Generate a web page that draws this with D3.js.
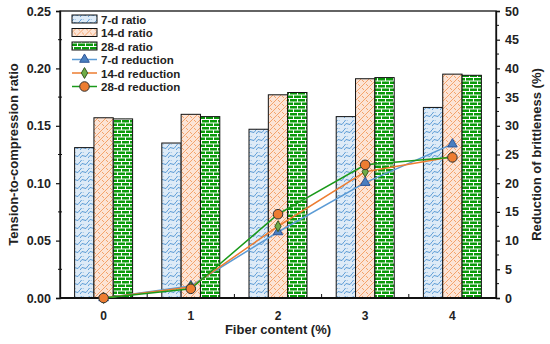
<!DOCTYPE html>
<html>
<head>
<meta charset="utf-8">
<script src="https://cdn.jsdelivr.net/npm/d3@7"></script>
<style>
  body { margin: 0; background: #fff; }
  text { font-family: 'Liberation Sans', Arial, sans-serif; font-weight: bold; fill: #222; }
</style>
</head>
<body>
<div id="chart"></div>
<script>
const fiber = ['0', '1', '2', '3', '4']
const ratio7 = [0.131, 0.135, 0.147, 0.158, 0.166]
const ratio14 = [0.157, 0.160, 0.177, 0.191, 0.195]
const ratio28 = [0.156, 0.158, 0.179, 0.192, 0.194]
const red7 = [0, 2.1, 11.5, 20.1, 26.8]
const red14 = [0, 1.9, 12.5, 22.0, 24.6]
const red28 = [0, 1.6, 14.6, 23.2, 24.5]
const leftTicks = [0, 0.05, 0.1, 0.15, 0.2, 0.25]
const rightTicks = [0, 5, 10, 15, 20, 25, 30, 35, 40, 45, 50]

const margin = { top: 11, right: 54, bottom: 46, left: 60 }
const W = 550
const H = 344
const width = W - margin.left - margin.right
const height = H - margin.top - margin.bottom

const svg = d3.select('#chart').append('svg')
  .attr('width', W).attr('height', H)

// patterns
const defs = svg.append('defs')
const pBlue = defs.append('pattern').attr('id', 'pBlue')
  .attr('patternUnits', 'userSpaceOnUse').attr('width', 8).attr('height', 8)
pBlue.append('rect').attr('width', 8).attr('height', 8).attr('fill', '#deebf7')
pBlue.append('path').attr('d', 'M0 6 Q2 2 4 4 T8 2').attr('fill', 'none')
  .attr('stroke', '#5b9bd5').attr('stroke-width', 1)
pBlue.append('path').attr('d', 'M0 2 Q2 -2 4 0').attr('fill', 'none')
  .attr('stroke', '#5b9bd5').attr('stroke-width', 1)

const pOrange = defs.append('pattern').attr('id', 'pOrange')
  .attr('patternUnits', 'userSpaceOnUse').attr('width', 8).attr('height', 8)
pOrange.append('rect').attr('width', 8).attr('height', 8).attr('fill', '#fce4d6')
pOrange.append('path').attr('d', 'M0 8 L8 0 M-2 2 L2 -2 M6 10 L10 6').attr('stroke', '#f4a36b').attr('stroke-width', 1)
pOrange.append('path').attr('d', 'M2 0 L4 2 M6 4 L8 6').attr('stroke', '#f4a36b').attr('stroke-width', 1)

const pGreen = defs.append('pattern').attr('id', 'pGreen')
  .attr('patternUnits', 'userSpaceOnUse').attr('width', 8).attr('height', 7)
pGreen.append('rect').attr('width', 8).attr('height', 7).attr('fill', '#0a9a0a')
pGreen.append('path')
  .attr('d', 'M0 0.5 H8 M0 4 H8 M1.5 0.5 V4 M5.5 4 V7')
  .attr('stroke', '#fff').attr('stroke-width', 1)

const x0 = d3.scaleBand().domain(fiber)
  .range([margin.left, margin.left + width])
  .paddingInner(0.335).paddingOuter(0.1675)
const series = ['r7', 'r14', 'r28']
const x1 = d3.scaleBand().domain(series).range([0, x0.bandwidth()])
const y = d3.scaleLinear().domain([0, 0.25]).range([margin.top + height, margin.top])
const y2 = d3.scaleLinear().domain([0, 50]).range([margin.top + height, margin.top])

const barData = [
  { key: 'r7', values: ratio7, fill: 'url(#pBlue)' },
  { key: 'r14', values: ratio14, fill: 'url(#pOrange)' },
  { key: 'r28', values: ratio28, fill: 'url(#pGreen)' }
]

barData.forEach(s => {
  svg.append('g').selectAll('rect')
    .data(s.values)
    .enter()
    .append('rect')
    .attr('x', (d, i) => x0(fiber[i]) + x1(s.key))
    .attr('y', d => y(d))
    .attr('width', x1.bandwidth())
    .attr('height', d => y(0) - y(d))
    .attr('fill', s.fill)
    .attr('stroke', '#111')
    .attr('stroke-width', 1)
})

// frame
svg.append('rect')
  .attr('x', margin.left).attr('y', margin.top)
  .attr('width', width).attr('height', height)
  .attr('fill', 'none').attr('stroke', '#111').attr('stroke-width', 1.3)

// axes
const leftAxis = d3.axisLeft(y).tickValues(leftTicks).tickFormat(d3.format('.2f')).tickSize(4).tickPadding(5)
svg.append('g').attr('class', 'y-axis')
  .attr('transform', 'translate(' + margin.left + ',0)')
  .call(leftAxis)
svg.append('g').selectAll('line')
  .data(leftTicks.slice(0, -1).map(d => d + 0.025))
  .enter().append('line')
  .attr('x1', margin.left - 2).attr('x2', margin.left + 2)
  .attr('y1', d => y(d)).attr('y2', d => y(d))
  .attr('stroke', '#111')

const rightAxis = d3.axisRight(y2).tickValues(rightTicks).tickSize(4).tickPadding(5)
svg.append('g').attr('class', 'y2-axis')
  .attr('transform', 'translate(' + (margin.left + width) + ',0)')
  .call(rightAxis)
svg.append('g').selectAll('line')
  .data(rightTicks.slice(0, -1).map(d => d + 2.5))
  .enter().append('line')
  .attr('x1', margin.left + width).attr('x2', margin.left + width + 3)
  .attr('y1', d => y2(d)).attr('y2', d => y2(d))
  .attr('stroke', '#111')

svg.selectAll('.y-axis text, .y2-axis text').attr('font-size', 12.5).attr('fill', '#222')
svg.selectAll('.y-axis .domain, .y2-axis .domain').attr('stroke', '#111').attr('stroke-width', 1.3)
svg.selectAll('.y-axis .tick line, .y2-axis .tick line').attr('stroke', '#111').attr('stroke-width', 1.2)

// x axis
svg.append('line')
  .attr('x1', margin.left).attr('x2', margin.left + width)
  .attr('y1', y(0)).attr('y2', y(0))
  .attr('stroke', '#111').attr('stroke-width', 2)
svg.append('g').selectAll('line')
  .data(fiber.slice(1))
  .enter().append('line')
  .attr('x1', d => x0(d) - x0.step() * x0.paddingInner() / 2)
  .attr('x2', d => x0(d) - x0.step() * x0.paddingInner() / 2)
  .attr('y1', y(0)).attr('y2', y(0) - 4)
  .attr('stroke', '#111')
svg.append('g').selectAll('text')
  .data(fiber)
  .enter().append('text')
  .attr('x', d => x0(d) + x0.bandwidth() / 2)
  .attr('y', y(0) + 22)
  .attr('text-anchor', 'middle')
  .attr('font-size', 12)
  .text(d => d)

// lines
const lineData = [
  { values: red7, line: '#5b9bd5', marker: 'triangle', mfill: '#4a7fc0', mstroke: '#2f5597' },
  { values: red14, line: '#ed7d31', marker: 'diamond', mfill: '#70ad47', mstroke: '#375623' },
  { values: red28, line: '#1a9a1a', marker: 'circle', mfill: '#ed7d31', mstroke: '#333' }
]
const xc = i => x0(fiber[i]) + x0.bandwidth() / 2
const lineGen = d3.line().x((d, i) => xc(i)).y(d => y2(d))
const symbols = {
  triangle: d3.symbol().type(d3.symbolTriangle).size(40),
  diamond: d3.symbol().type(d3.symbolDiamond).size(34),
  circle: d3.symbol().type(d3.symbolCircle).size(72)
}

lineData.forEach(s => {
  svg.append('path')
    .attr('d', lineGen(s.values))
    .attr('fill', 'none')
    .attr('stroke', s.line)
    .attr('stroke-width', 1.5)
})
lineData.forEach(s => {
  svg.append('g').selectAll('path')
    .data(s.values)
    .enter().append('path')
    .attr('d', symbols[s.marker]())
    .attr('transform', (d, i) => 'translate(' + xc(i) + ',' + y2(d) + ')')
    .attr('fill', s.mfill)
    .attr('stroke', s.mstroke)
    .attr('stroke-width', 1)
})

// titles
svg.append('text')
  .attr('transform', 'translate(' + 18 + ',' + (margin.top + height / 2) + ') rotate(-90)')
  .attr('text-anchor', 'middle').attr('font-size', 13)
  .text('Tension-to-compression ratio')
svg.append('text')
  .attr('transform', 'translate(' + 541 + ',' + (margin.top + height / 2) + ') rotate(-90)')
  .attr('text-anchor', 'middle').attr('font-size', 13)
  .text('Reduction of brittleness (%)')
svg.append('text')
  .attr('x', margin.left + width / 2).attr('y', 334)
  .attr('text-anchor', 'middle').attr('font-size', 13)
  .text('Fiber content (%)')

// legend
const legendItems = [
  { label: '7-d ratio', type: 'bar', fill: 'url(#pBlue)' },
  { label: '14-d ratio', type: 'bar', fill: 'url(#pOrange)' },
  { label: '28-d ratio', type: 'bar', fill: 'url(#pGreen)' },
  { label: '7-d reduction', type: 'line', s: lineData[0] },
  { label: '14-d reduction', type: 'line', s: lineData[1] },
  { label: '28-d reduction', type: 'line', s: lineData[2] }
]
const legend = svg.append('g').attr('transform', 'translate(72,19)')
legendItems.forEach((d, i) => {
  const g = legend.append('g').attr('transform', 'translate(0,' + (i * 13.5) + ')')
  if (d.type === 'bar') {
    g.append('rect').attr('x', 0).attr('y', -4).attr('width', 25).attr('height', 8)
      .attr('fill', d.fill).attr('stroke', '#111').attr('stroke-width', 1)
  } else {
    g.append('line').attr('x1', 0).attr('x2', 25).attr('y1', 0).attr('y2', 0)
      .attr('stroke', d.s.line).attr('stroke-width', 1.5)
    g.append('path').attr('d', symbols[d.s.marker]())
      .attr('transform', 'translate(12.5,0)')
      .attr('fill', d.s.mfill).attr('stroke', d.s.mstroke)
  }
  g.append('text').attr('x', 29).attr('y', 4.5)
    .attr('font-size', 11.5)
    .text(d.label)
})
</script>
</body>
</html>
